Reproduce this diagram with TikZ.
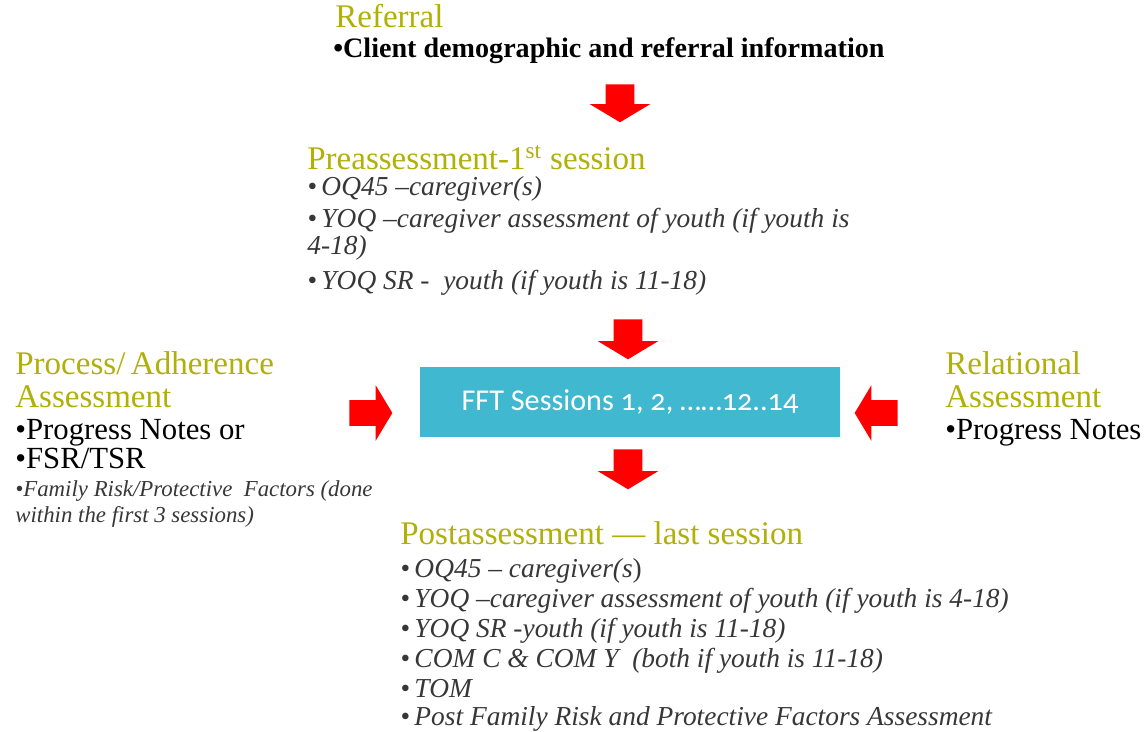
\documentclass[tikz,border=0pt]{standalone}
\usepackage{fontspec}
\setmainfont{Liberation Serif}
\newfontfamily\boxfont[Numbers=OldStyle]{Carlito}
\usetikzlibrary{shapes.arrows}

\definecolor{headolive}{RGB}{176,176,8}
\definecolor{itemgray}{RGB}{55,55,55}
\definecolor{boxcyan}{RGB}{64,184,207}
\definecolor{arrowred}{RGB}{255,0,0}

\begin{document}
\begin{tikzpicture}[x=0.02cm, y=-0.02cm,
    title/.style={anchor=base west, inner sep=0pt, text=headolive, font=\fontsize{18.8}{22}\selectfont},
    entry/.style={anchor=base west, inner sep=0pt, text=itemgray, font=\fontsize{15.6}{18}\selectfont\itshape},
    mainentry/.style={anchor=base west, inner sep=0pt, text=black, font=\fontsize{17.5}{20}\selectfont},
    noteentry/.style={anchor=base west, inner sep=0pt, text=itemgray, font=\fontsize{13}{15}\selectfont\itshape},
    redarrow/.style={single arrow, fill=arrowred, draw=none, inner xsep=0pt, single arrow tip angle=118},
]
    \useasboundingbox (0,0) rectangle (1147,732);

    % Referral
    \node[title] (referral) at (335,28) {Referral};
    \node[anchor=base west, inner sep=0pt, font=\fontsize{16}{19}\selectfont\bfseries] (referralinfo) at (333,58) {•Client demographic and referral information};
    \node[redarrow, inner ysep=0.28cm, minimum height=0.76cm, minimum width=1.2cm, single arrow head extend=0.32cm, rotate=-90] (arrowref) at (620,99) {};

    % Preassessment
    \node[title] (pre) at (307,170) {Preassessment-1\textsuperscript{st} session};
    \node[entry] (preoq) at (307,196) {•\,OQ45 –caregiver(s)};
    \node[entry] (preyoq) at (307,228) {•\,YOQ –caregiver assessment of youth (if youth is};
    \node[entry] (preyoqend) at (307,255) {4-18)};
    \node[entry] (preyoqsr) at (307,290) {•\,YOQ SR -\ \ youth (if youth is 11-18)};
    \node[redarrow, inner ysep=0.28cm, minimum height=0.8cm, minimum width=1.2cm, single arrow head extend=0.32cm, rotate=-90] (arrowpre) at (628,335) {};

    % FFT sessions
    \node[fill=boxcyan, minimum width=8.4cm, minimum height=1.4cm, text=white, font=\boxfont\fontsize{17.2}{20}\selectfont] (sessions) at (630,402) {FFT Sessions 1, 2, ……12..14};
    \node[redarrow, inner ysep=0.28cm, minimum height=0.8cm, minimum width=1.2cm, single arrow head extend=0.32cm, rotate=-90] (arrowpost) at (628,465) {};

    % Process / adherence
    \node[title] (process) at (15,375) {Process/\,Adherence};
    \node[title] (processb) at (15,408) {Assessment};
    \node[mainentry] (processnotes) at (15,440) {•Progress Notes or};
    \node[mainentry] (processfsr) at (15,469) {•FSR/TSR};
    \node[noteentry] (processrisk) at (15,497) {•Family Risk/Protective\ \ Factors (done};
    \node[noteentry] (processriskend) at (15,523) {within the first 3 sessions)};
    \node[redarrow, inner ysep=0.25cm, minimum height=0.86cm, minimum width=1.1cm, single arrow head extend=0.3cm] (arrowproc) at (367,413) {};

    % Relational
    \node[title] (relational) at (945,375) {Relational};
    \node[title] (relationalb) at (945,408) {Assessment};
    \node[mainentry] (relnotes) at (945,440) {•Progress Notes};
    \node[redarrow, inner ysep=0.25cm, minimum height=0.86cm, minimum width=1.1cm, single arrow head extend=0.3cm, rotate=180] (arrowrel) at (880,413) {};

    % Postassessment
    \node[title] (post) at (400,545) {Postassessment — last session};
    \node[entry] (postoq) at (400,578) {•\,OQ45 – caregiver(s{\upshape )}};
    \node[entry] (postyoq) at (400,608) {•\,YOQ –caregiver assessment of youth (if youth is 4-18)};
    \node[entry] (postyoqsr) at (400,638) {•\,YOQ SR -youth (if youth is 11-18)};
    \node[entry] (postcom) at (400,668) {•\,COM C \& COM Y\ \ (both if youth is 11-18)};
    \node[entry] (posttom) at (400,698) {•\,TOM};
    \node[entry] (postrisk) at (400,726) {•\,Post Family Risk and Protective Factors Assessment};
\end{tikzpicture}
\end{document}
